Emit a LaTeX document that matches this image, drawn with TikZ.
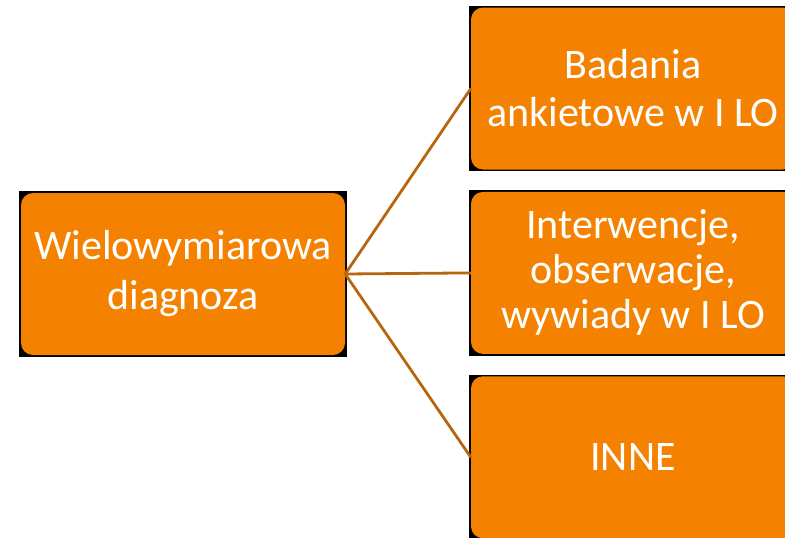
\documentclass[tikz,border=0pt]{standalone}
\usepackage{fontspec}
\setmainfont{Carlito}
\usetikzlibrary{positioning,backgrounds}
\definecolor{boxorange}{HTML}{F48200}
\definecolor{linkbrown}{HTML}{B8650F}
\tikzset{box/.style={fill=boxorange,rounded corners=12pt,minimum width=324pt,minimum height=162pt,align=center,text=white,font=\fontsize{42}{48}\selectfont,inner sep=0pt},backing/.style={fill=black},link/.style={draw=linkbrown,line width=2.8pt}}

\begin{document}
\begin{tikzpicture}[x=1pt,y=-1pt]
\useasboundingbox (0,0) rectangle (785,538);
\clip (0,0) rectangle (785,538);
\node[box,font=\fontsize{42}{50}\selectfont] (diag) at (183,274) {Wielowymiarowa\\diagnoza};
\node[box] (survey) at (633,88.5) {Badania\\ankietowe w I LO};
\node[box,below=22pt of survey,font=\fontsize{42}{45}\selectfont] (interv) {Interwencje,\\obserwacje,\\wywiady w I LO};
\node[box,below=22pt of interv] (other) {INNE};
\begin{scope}[on background layer]
\foreach \b in {diag,survey,interv,other}
  \fill[backing] ([shift={(-1.5pt,1.5pt)}]\b.north west) rectangle ([shift={(1.5pt,-1.5pt)}]\b.south east);
\end{scope}
\draw[link] (diag.east)--(survey.west);\draw[link] (diag.east)--(interv.west);\draw[link] (diag.east)--(other.west);
\end{tikzpicture}
\end{document}
